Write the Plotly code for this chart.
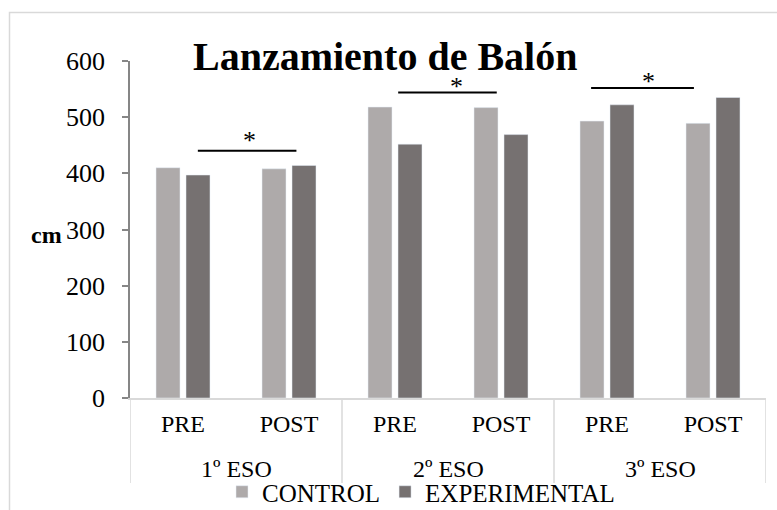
import plotly.graph_objects as go

# ---- data ----
groups = ["1º ESO", "2º ESO", "3º ESO"]
phases = ["PRE", "POST"]
control = [410, 408, 518, 517, 493, 489]
experimental = [397, 414, 452, 469, 522, 535]
y_ticks = [0, 100, 200, 300, 400, 500, 600]
# significance brackets: (x start, x end, y value) in category units
sig_lines = [(0.14, 1.07, 440), (2.03, 2.96, 544), (3.85, 4.82, 552)]
sig_stars = [(0.63, 466), (2.58, 562), (4.39, 571)]

x_pos = list(range(len(control)))
x_labels = phases * len(groups)

FONT = "Liberation Serif"
C_CTRL = "#AEAAAA"
C_EXP = "#767171"
GRID = "#D9D9D9"

# plot-area geometry in pixels (for paper conversions)
W, H = 777, 510
L, R, T, B = 130, 11, 61, 112
PW, PH = W - L - R, H - T - B


def xp(px):
    return (px - L) / PW


def yp(py):
    return (H - B - py) / PH


fig = go.Figure()
fig.add_trace(go.Bar(x=x_pos, y=control, name="CONTROL", marker_color=C_CTRL))
fig.add_trace(go.Bar(x=x_pos, y=experimental, name="EXPERIMENTAL", marker_color=C_EXP))

shapes = []
# group dividers under the axis
for gi in range(len(groups) + 1):
    xv = gi * len(phases) - 0.5
    shapes.append(dict(type="line", xref="x", yref="paper", x0=xv, x1=xv,
                       y0=0, y1=yp(483), line=dict(color=GRID, width=1.5)))
# significance lines
for x0, x1, yv in sig_lines:
    shapes.append(dict(type="line", xref="x", yref="y", x0=x0, x1=x1,
                       y0=yv, y1=yv, line=dict(color="black", width=2)))
# outer chart border (cropped on the right and bottom as in reference)
shapes.append(dict(type="rect", xref="paper", yref="paper",
                   x0=xp(9.5), x1=xp(820), y0=yp(12.5), y1=yp(560),
                   line=dict(color=GRID, width=1.5), layer="below"))

annotations = []
for gi, g in enumerate(groups):
    cx = gi * len(phases) + (len(phases) - 1) / 2
    annotations.append(dict(text=g, x=cx, xref="x", y=yp(469), yref="paper",
                            showarrow=False, font=dict(size=24, color="black", family=FONT),
                            xanchor="center", yanchor="middle"))
for xs, ys in sig_stars:
    annotations.append(dict(text="*", x=xs, xref="x", y=ys, yref="y",
                            showarrow=False, font=dict(size=26, color="black", family=FONT),
                            xanchor="center", yanchor="middle", yshift=-4))
annotations.append(dict(text="<b>Lanzamiento de Balón</b>", x=xp(385), xref="paper",
                        y=yp(56), yref="paper", showarrow=False,
                        font=dict(size=40, color="black", family=FONT),
                        xanchor="center", yanchor="middle"))
annotations.append(dict(text="<b>cm</b>", x=xp(64), xref="paper", y=300, yref="y",
                        showarrow=False, font=dict(size=24, color="black", family=FONT),
                        xanchor="right", yanchor="middle", yshift=-5))

fig.update_layout(
    width=W, height=H,
    margin=dict(l=L, r=R, t=T, b=B, pad=0, autoexpand=False),
    paper_bgcolor="white", plot_bgcolor="white",
    barmode="group", bargap=0.434, bargroupgap=0.2,
    font=dict(family=FONT, size=24, color="black"),
    shapes=shapes, annotations=annotations,
    showlegend=True,
    legend=dict(orientation="h", x=xp(222), xanchor="left", y=yp(492), yanchor="middle",
                font=dict(size=25, family=FONT, color="black"),
                itemwidth=30, tracegroupgap=0, bgcolor="rgba(0,0,0,0)"),
    xaxis=dict(range=[-0.5, len(control) - 0.5], tickvals=x_pos, ticktext=x_labels,
               showline=True, linecolor=GRID, linewidth=1.5, ticks="", showgrid=False,
               zeroline=False, ticklabelstandoff=3, automargin=False,
               tickfont=dict(size=24, family=FONT, color="black")),
    yaxis=dict(range=[0, 600], tickvals=y_ticks, showline=True, linecolor="#868686",
               linewidth=1.5, ticks="outside", ticklen=6, tickcolor="#868686",
               tickwidth=1.5, showgrid=False, zeroline=False, ticklabelstandoff=12,
               automargin=False,
               tickfont=dict(size=26, family=FONT, color="black")),
)

fig.write_html("out.html", config={"displayModeBar": False},
               post_script="document.body.style.margin='0';document.body.style.overflow='hidden';")
